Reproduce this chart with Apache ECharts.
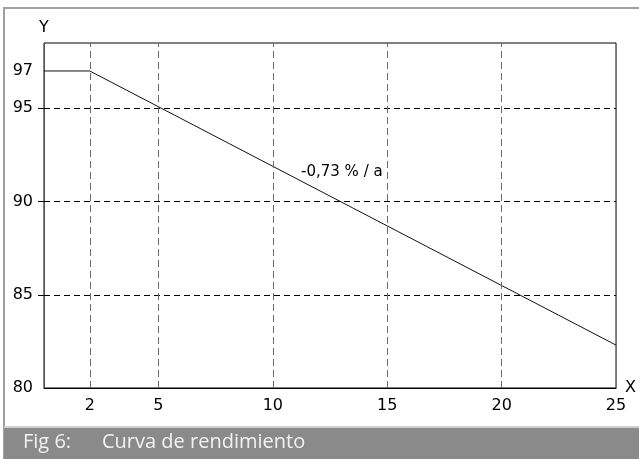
<!DOCTYPE html>
<html>
<head>
<meta charset="utf-8">
<script src="https://cdn.jsdelivr.net/npm/echarts@6/dist/echarts.min.js"></script>
<style>
html,body{margin:0;padding:0;background:#fff;}
#c{width:639px;height:459px;}
</style>
</head>
<body>
<div id="c"></div>
<script>
// Data
var curveX = [0, 2, 25];
var curveY = [97, 97, 82.3];
var xTickLabels = [2, 5, 10, 15, 20, 25];
var yTickLabels = [80, 85, 90, 95, 97];
var xGridValues = [2, 5, 10, 15, 20];
var yGridValues = [85, 90, 95];
var slopeText = '-0,73 % / a';
var slopeTextAt = [14.8, 91.6];
var captionNum = 'Fig 6:';
var captionText = 'Curva de rendimiento';

var FONT = 'DejaVu Sans';
var chart = echarts.init(document.getElementById('c'), null, {renderer: 'canvas'});

var gridMarks = [];
yGridValues.forEach(function (v) {
  gridMarks.push({yAxis: v, lineStyle: {color: '#000', width: 1, type: [6, 4]}});
});
xGridValues.forEach(function (v) {
  gridMarks.push({xAxis: v, lineStyle: {color: '#6a6a6a', width: 1, type: [7, 4]}});
});

var option = {
  animation: false,
  backgroundColor: '#fff',
  grid: {left: 44, right: 20, top: 43, bottom: 71, show: true, borderColor: '#000', borderWidth: 1, backgroundColor: 'transparent'},
  xAxis: {
    type: 'value', min: 0, max: 25,
    name: 'X', nameLocation: 'end', nameGap: 9,
    nameTextStyle: {fontFamily: FONT, fontSize: 16, color: '#000', padding: [0, 0, 12, 0]},
    axisLine: {show: true, lineStyle: {color: '#000', width: 1}},
    axisTick: {show: false},
    splitLine: {show: false},
    axisLabel: {customValues: xTickLabels, fontFamily: FONT, fontSize: 16, color: '#000', margin: 10}
  },
  yAxis: {
    type: 'value', min: 80, max: 98.5,
    name: 'Y', nameLocation: 'end', nameGap: 7,
    nameTextStyle: {fontFamily: FONT, fontSize: 16, color: '#000', align: 'center'},
    axisLine: {show: true, lineStyle: {color: '#555', width: 1}},
    axisTick: {show: true, customValues: yGridValues, length: 6, inside: false, lineStyle: {color: '#000', width: 1}},
    splitLine: {show: false},
    axisLabel: {customValues: yTickLabels, fontFamily: FONT, fontSize: 16, color: '#000', margin: 11}
  },
  series: [{
    type: 'line',
    data: curveX.map(function (x, i) { return [x, curveY[i]]; }),
    symbol: 'none',
    lineStyle: {color: '#111', width: 1},
    silent: true,
    markLine: {
      silent: true, symbol: 'none', label: {show: false},
      data: gridMarks
    },
    markPoint: {
      silent: true, symbol: 'circle', symbolSize: 0,
      data: [{coord: slopeTextAt, value: slopeText}],
      label: {show: true, position: 'left', distance: 0, formatter: slopeText, fontFamily: FONT, fontSize: 15, color: '#000'}
    },
    z: 3
  }],
  graphic: [
    {type: 'rect', shape: {x: 4, y: 7, width: 640, height: 2}, style: {fill: '#a0a0a0'}, silent: true},
    {type: 'rect', shape: {x: 3, y: 7, width: 2, height: 460}, style: {fill: '#a0a0a0'}, silent: true},
    {type: 'rect', shape: {x: 4, y: 426, width: 640, height: 2}, style: {fill: '#cfcfcf'}, silent: true},
    {type: 'rect', shape: {x: 4, y: 428, width: 640, height: 35}, style: {fill: '#8a8a8a'}, silent: true},
    {type: 'text', left: 23, top: 432, style: {text: captionNum, fontFamily: 'Open Sans', fontSize: 20, fill: '#f2f2f2'}, silent: true},
    {type: 'text', left: 102, top: 432, style: {text: captionText, fontFamily: 'Open Sans', fontSize: 20, fill: '#f2f2f2'}, silent: true}
  ]
};
chart.setOption(option);
</script>
</body>
</html>
